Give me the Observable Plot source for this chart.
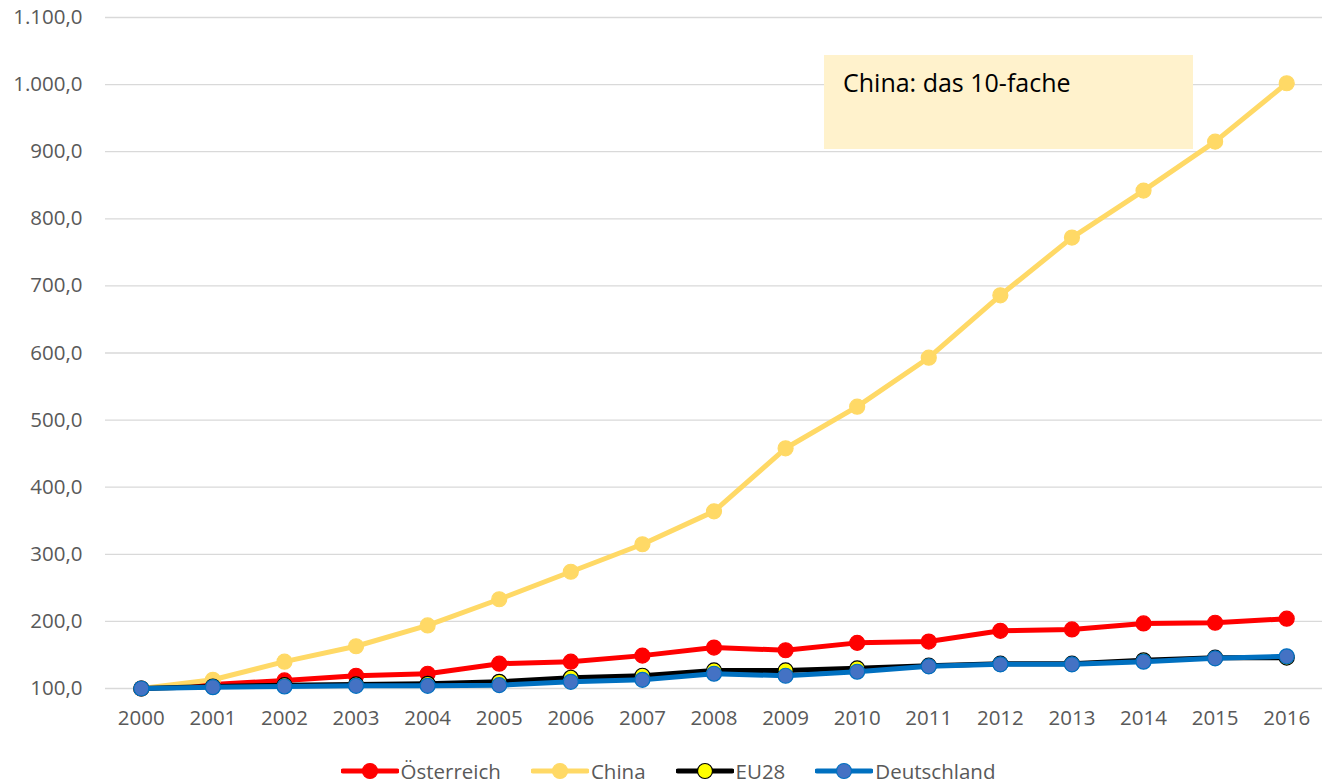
<!DOCTYPE html>
<html>
<head>
<meta charset="utf-8">
<script src="https://cdn.jsdelivr.net/npm/d3@7"></script>
<script src="https://cdn.jsdelivr.net/npm/@observablehq/plot@0.6"></script>
<style>
  html, body { margin: 0; padding: 0; background: #fff; }
  body { width: 1322px; height: 783px; overflow: hidden; font-family: "Open Sans", Lato, sans-serif; }
  #wrap { position: relative; width: 1322px; }
  #note { position: absolute; left: 824px; top: 55px; width: 369px; height: 94px; background: #FFF2CC;
          font-family: "Open Sans", Lato, sans-serif; font-size: 25px; color: #000; box-sizing: border-box; padding: 10px 0 0 19px; }
  #legend { display: flex; justify-content: center; align-items: center; gap: 30px; height: 33px; margin-top: 4px;
            font-size: 20.5px; color: #595959; padding-left: 14px; }
  .item { display: flex; align-items: center; }
  .item svg { margin-right: 2px; }
</style>
</head>
<body>
<div id="wrap"><div id="chart"></div><div id="note">China: das 10-fache</div></div>
<div id="legend"></div>
<script>
const years = [2000,2001,2002,2003,2004,2005,2006,2007,2008,2009,2010,2011,2012,2013,2014,2015,2016];
const oesterreich = [100,106,112,119,122,137,140,149,161,157,168,170,186,188,197,198,204];
const china = [100,113,140,163,194,233,274,315,364,458,520,593,686,772,842,915,1002];
const eu28 = [100,103,105,106,107,110,116,119,127,127,130,134,137,137,142,146,146];
const deutschland = [100,102,103,104,104,105,110,113,122,119,125,133,136,136,140,145,148];
const yTicks = [100,200,300,400,500,600,700,800,900,1000,1100];
const seriesNames = ["Österreich","China","EU28","Deutschland"];
const seriesValues = [oesterreich, china, eu28, deutschland];
const styles = {
  "Österreich": {line: "#FF0000", fill: "#FF0000", stroke: "#FF0000"},
  "China": {line: "#FFD966", fill: "#FFD966", stroke: "#FFD966"},
  "EU28": {line: "#000000", fill: "#FFFF00", stroke: "#000000"},
  "Deutschland": {line: "#0070C0", fill: "#4472C4", stroke: "#0070C0"}
};
const de = d3.formatLocale({decimal: ",", thousands: ".", grouping: [3], currency: ["", "€"]});
const fmt = de.format(",.1f");

const marks = [
  Plot.gridY(yTicks, {stroke: "#d9d9d9", strokeOpacity: 1, strokeWidth: 1.3}),
  Plot.axisY(yTicks, {tickSize: 0, tickPadding: 23, tickFormat: fmt, fontSize: 20.5, fill: "#595959", label: null}),
  Plot.axisX(years, {tickSize: 0, tickPadding: 22, tickFormat: d => String(d), fontSize: 20.5, fill: "#595959", label: null})
];
seriesNames.forEach((name, i) => {
  const data = years.map((y, j) => ({year: y, value: seriesValues[i][j]}));
  const s = styles[name];
  marks.push(Plot.line(data, {x: "year", y: "value", stroke: s.line, strokeWidth: 5}));
  marks.push(Plot.dot(data, {x: "year", y: "value", r: 7.5, fill: s.fill, stroke: s.stroke, strokeWidth: 1.2}));
});

const chart = Plot.plot({
  width: 1322,
  height: 750,
  marginLeft: 105,
  marginRight: 0,
  marginTop: 17,
  marginBottom: 62,
  style: {fontFamily: "'Open Sans', Lato, sans-serif", background: "#fff"},
  x: {domain: [1999.5, 2016.5], axis: null},
  y: {domain: [100, 1100], axis: null},
  marks
});
document.getElementById("chart").appendChild(chart);

const legend = document.getElementById("legend");
seriesNames.forEach(name => {
  const s = styles[name];
  const item = document.createElement("div");
  item.className = "item";
  item.innerHTML = `<svg width="58" height="20"><line x1="2" y1="10" x2="56" y2="10" stroke="${s.line}" stroke-width="5" stroke-linecap="round"/><circle cx="29" cy="10" r="7.5" fill="${s.fill}" stroke="${s.stroke}" stroke-width="1.2"/></svg><span>${name}</span>`;
  legend.appendChild(item);
});
</script>
</body>
</html>
